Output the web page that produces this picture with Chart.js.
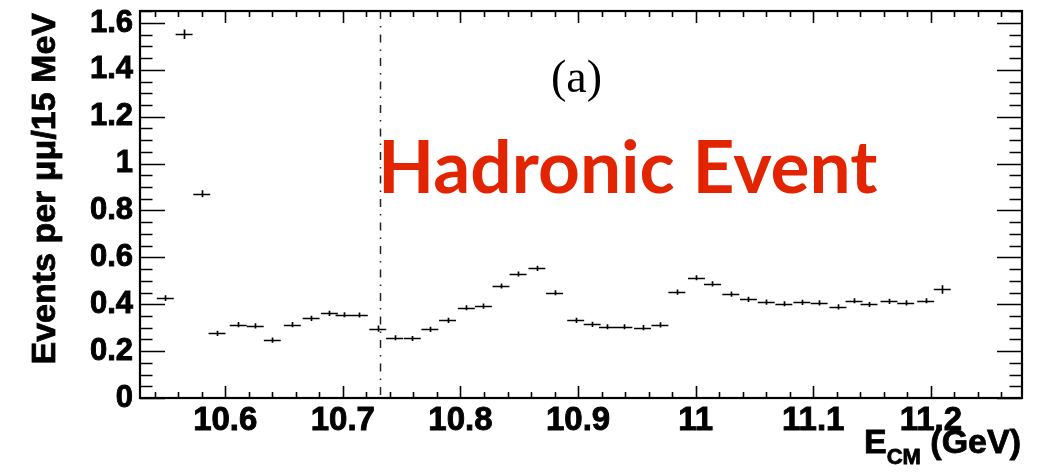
<!DOCTYPE html>
<html>
<head>
<meta charset="utf-8">
<script src="https://cdn.jsdelivr.net/npm/chart.js@4/dist/chart.umd.min.js"></script>
<style>
  html, body { margin: 0; padding: 0; background: #fff; }
  #wrap { width: 1050px; height: 472px; }
</style>
</head>
<body>
<div id="wrap"><canvas id="c" width="1050" height="472"></canvas></div>
<script>
// scan points (GeV) and normalised yields
const energy = [10.549, 10.565, 10.580, 10.593, 10.611, 10.6255, 10.640, 10.657, 10.673, 10.6886,
  10.701, 10.714, 10.7297, 10.744, 10.759, 10.774, 10.789, 10.805, 10.8195, 10.8345,
  10.849, 10.865, 10.880, 10.898, 10.912, 10.925, 10.939, 10.9548, 10.9696, 10.984,
  11.0007, 11.0143, 11.0299, 11.0449, 11.060, 11.075, 11.0903, 11.105, 11.121, 11.1347,
  11.1474, 11.1644, 11.1786, 11.1956, 11.2097];
const events = [0.426, 1.552, 0.871, 0.276, 0.313, 0.308, 0.247, 0.313, 0.340, 0.361,
  0.355, 0.354, 0.296, 0.257, 0.254, 0.293, 0.331, 0.385, 0.392, 0.478,
  0.529, 0.553, 0.449, 0.331, 0.314, 0.304, 0.304, 0.300, 0.312, 0.452,
  0.513, 0.487, 0.443, 0.421, 0.409, 0.402, 0.408, 0.406, 0.389, 0.415,
  0.399, 0.412, 0.406, 0.415, 0.463];
const eventsErr = [0.012, 0.02, 0.015, 0.011, 0.011, 0.011, 0.011, 0.011, 0.011, 0.011,
  0.011, 0.011, 0.013, 0.011, 0.011, 0.011, 0.011, 0.011, 0.011, 0.011,
  0.011, 0.011, 0.011, 0.011, 0.011, 0.011, 0.011, 0.011, 0.011, 0.011,
  0.011, 0.011, 0.011, 0.011, 0.011, 0.011, 0.011, 0.011, 0.011, 0.011,
  0.011, 0.011, 0.011, 0.011, 0.018];
const binHalf = 0.0072;       // half of the 15 MeV bin
const thresholdE = 10.7318;   // dash-dotted marker

const xMin = 10.5275, xMax = 11.2775;
const yMin = 0, yMax = 1.651;
const xLabels = [10.6, 10.7, 10.8, 10.9, 11.0, 11.1, 11.2];
const yLabels = [0, 0.2, 0.4, 0.6, 0.8, 1.0, 1.2, 1.4, 1.6];

const fmt = v => String(Number(v.toFixed(2)));
const HELV = "'Liberation Sans', Arial, sans-serif";

// bold text with a thin outline so it reads as heavy as Helvetica Bold
function heavyText(ctx, s, x, y) {
  ctx.fillText(s, x, y);
  ctx.strokeText(s, x, y);
}

// ROOT-like frame with inward ticks on all four sides, plus the text
const framePlugin = {
  id: 'frame',
  afterDraw(chart) {
    const { ctx, chartArea: a, scales: { x, y } } = chart;
    ctx.save();
    ctx.strokeStyle = '#000';
    ctx.lineWidth = 1.6;
    ctx.beginPath();
    for (let k = 0; k <= 36; k++) {
      const v = 10.54 + k * 0.02;
      if (v > xMax) break;
      const px = Math.round(x.getPixelForValue(v)) + 0.5;
      const major = Math.abs(v * 10 - Math.round(v * 10)) < 1e-6;
      const len = major ? 12 : 6;
      ctx.moveTo(px, a.bottom); ctx.lineTo(px, a.bottom - len);
      ctx.moveTo(px, a.top); ctx.lineTo(px, a.top + len);
    }
    for (let k = 0; k * 0.05 <= yMax; k++) {
      const py = Math.round(y.getPixelForValue(k * 0.05)) + 0.5;
      const len = k % 4 === 0 ? 25 : 12.5;
      ctx.moveTo(a.left, py); ctx.lineTo(a.left + len, py);
      ctx.moveTo(a.right, py); ctx.lineTo(a.right - len, py);
    }
    ctx.stroke();
    ctx.lineWidth = 2.2;
    ctx.strokeRect(a.left, a.top, a.right - a.left, a.bottom - a.top);

    ctx.fillStyle = '#000';
    ctx.lineWidth = 0.8;
    ctx.textBaseline = 'alphabetic';

    // y axis title, flush with the top of the frame
    ctx.save();
    ctx.translate(55, a.top + 2);
    ctx.rotate(-Math.PI / 2);
    ctx.textAlign = 'right';
    ctx.font = 'bold 34px ' + HELV;
    heavyText(ctx, 'Events per \u03bc\u03bc/15 MeV', 0, 0);
    ctx.restore();

    // x axis title with subscript
    ctx.textAlign = 'left';
    const big = 'bold 34px ' + HELV, small = 'bold 22px ' + HELV;
    ctx.font = big; const wE = ctx.measureText('E').width;
    ctx.font = small; const wCM = ctx.measureText('CM').width;
    ctx.font = big; const wG = ctx.measureText(' (GeV)').width;
    let tx = a.right - 1 - (wE + wCM + wG);
    heavyText(ctx, 'E', tx, 453); tx += wE;
    ctx.font = small; heavyText(ctx, 'CM', tx, 464); tx += wCM;
    ctx.font = big; heavyText(ctx, ' (GeV)', tx, 453);

    // panel label and caption
    ctx.font = "46px 'Liberation Serif', 'Times New Roman', serif";
    ctx.fillText('(a)', 551, 92);
    ctx.font = "bold 73px Lato, 'Open Sans', sans-serif";
    ctx.fillStyle = 'rgb(226,36,0)';
    ctx.fillText('Hadronic Event', 378, 193, 502);
    ctx.restore();
  }
};

// points drawn as bin-width horizontal bars with vertical error bars
const errorBarPlugin = {
  id: 'errorBars',
  afterDatasetsDraw(chart) {
    const { ctx, chartArea: a, scales: { x, y } } = chart;
    ctx.save();
    // threshold line
    ctx.strokeStyle = '#222';
    ctx.lineWidth = 1.5;
    ctx.setLineDash([8, 7, 1.5, 7]);
    const lx = Math.round(x.getPixelForValue(thresholdE)) + 0.5;
    ctx.beginPath();
    ctx.moveTo(lx, a.top); ctx.lineTo(lx, a.bottom);
    ctx.stroke();
    ctx.setLineDash([]);

    ctx.strokeStyle = '#000';
    ctx.lineWidth = 1.7;
    ctx.beginPath();
    const data = chart.data.datasets[0].data;
    data.forEach((p, i) => {
      const cx = x.getPixelForValue(p.x);
      const cy = Math.round(y.getPixelForValue(p.y)) + 0.5;
      ctx.moveTo(x.getPixelForValue(p.x - binHalf), cy);
      ctx.lineTo(x.getPixelForValue(p.x + binHalf), cy);
      ctx.moveTo(Math.round(cx) + 0.5, y.getPixelForValue(p.y - eventsErr[i]));
      ctx.lineTo(Math.round(cx) + 0.5, y.getPixelForValue(p.y + eventsErr[i]));
    });
    ctx.stroke();
    ctx.restore();
  }
};

new Chart(document.getElementById('c'), {
  type: 'scatter',
  data: {
    datasets: [{
      data: energy.map((e, i) => ({ x: e, y: events[i] })),
      pointRadius: 0,
      showLine: false
    }]
  },
  options: {
    responsive: false,
    animation: false,
    events: [],
    layout: { padding: { left: 0, right: 28, top: 11, bottom: 0 } },
    plugins: { legend: { display: false }, tooltip: { enabled: false } },
    scales: {
      x: {
        type: 'linear', min: xMin, max: xMax,
        afterBuildTicks: s => { s.ticks = xLabels.map(v => ({ value: v })); },
        afterFit: s => { s.height = 74; s.paddingLeft = 0; s.paddingRight = 0; },
        grid: { display: false, drawTicks: false },
        border: { display: false },
        ticks: {
          autoSkip: false, maxRotation: 0, padding: 3, color: '#000',
          textStrokeColor: '#000', textStrokeWidth: 0.9,
          font: { family: HELV, weight: 'bold', size: 33 },
          callback: v => fmt(v)
        }
      },
      y: {
        type: 'linear', min: yMin, max: yMax,
        afterBuildTicks: s => { s.ticks = yLabels.map(v => ({ value: v })); },
        afterFit: s => { s.width = 140; s.paddingTop = 0; s.paddingBottom = 0; },
        grid: { display: false, drawTicks: false },
        border: { display: false },
        ticks: {
          autoSkip: false, padding: 7, color: '#000',
          textStrokeColor: '#000', textStrokeWidth: 0.9,
          font: { family: HELV, weight: 'bold', size: 31 },
          callback: v => fmt(v)
        }
      }
    }
  },
  plugins: [errorBarPlugin, framePlugin]
});
</script>
</body>
</html>
